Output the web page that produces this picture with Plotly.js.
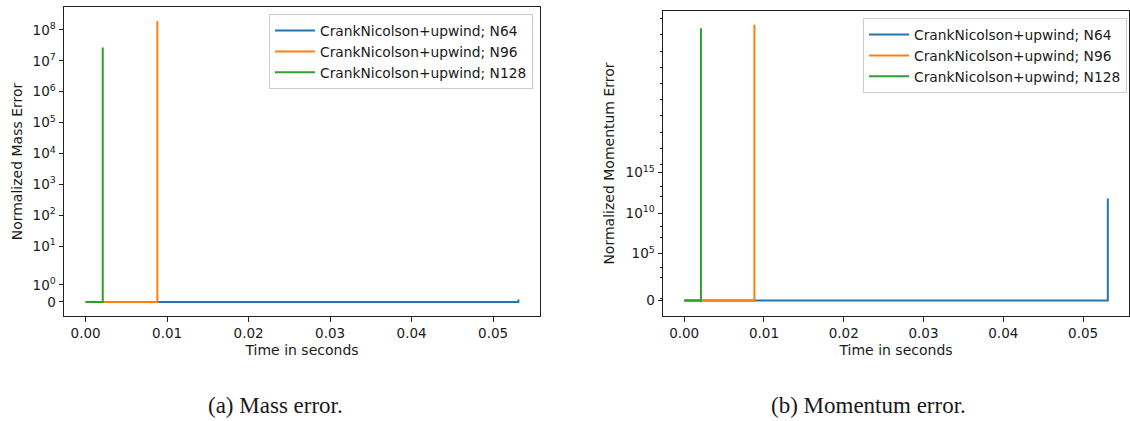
<!DOCTYPE html>
<html>
<head>
<meta charset="utf-8">
<script src="https://cdn.plot.ly/plotly-3.0.1.min.js"></script>
<style>
  html, body { margin: 0; padding: 0; background: #fff; }
  #chart { width: 1130px; height: 421px; }
</style>
</head>
<body>
<div id="chart"></div>
<script>
// ---------------- data ----------------
const seriesNames = ["CrankNicolson+upwind; N64", "CrankNicolson+upwind; N96", "CrankNicolson+upwind; N128"];
const seriesColors = ["#1f77b4", "#ff7f0e", "#2ca02c"];

const time_N64  = [0, 0.0531, 0.0531];
const mass_N64  = [0, 0, 0.15];
const momentum_N64 = [0, 0, 6e11];

const time_N96  = [0, 0.0088, 0.0088];
const mass_N96  = [0, 0, 1.94e8];
const momentum_N96 = [0, 0, 1.7e33];

const time_N128 = [0, 0.0021, 0.0021, 0.0021];
const mass_N128 = [0, 0, 0, 2.7e7];
const momentum_N128 = [0, 0, -0.35, 6.6e32];

const xTickVals = [0, 0.01, 0.02, 0.03, 0.04, 0.05];
const massTickVals = [0, 1, 10, 100, 1e3, 1e4, 1e5, 1e6, 1e7, 1e8];
const massTickText = ["0", "10<sup>0</sup>", "10<sup>1</sup>", "10<sup>2</sup>", "10<sup>3</sup>", "10<sup>4</sup>", "10<sup>5</sup>", "10<sup>6</sup>", "10<sup>7</sup>", "10<sup>8</sup>"];
const momTickVals = [0, 1e5, 1e10, 1e15];
const momTickText = ["0", "10<sup>5</sup>", "10<sup>10</sup>", "10<sup>15</sup>"];
const momMinorTickVals = [0.5, 1e2, 2e3, 1e7, 2e8, 1e12, 2e13, 1e16, 1e18, 1e20, 1e22, 1e24, 1e26, 1e28, 1e30, 1e32, 1e34];

// ---------------- symlog transform (matplotlib default: linthresh=2, linscale=1) ----------------
const LINTHRESH = 2, LINSCALE_ADJ = 1 / (1 - 1 / 10);
function symlog(v) {
  const a = Math.abs(v);
  const r = a <= LINTHRESH ? (a / LINTHRESH) * LINSCALE_ADJ : LINSCALE_ADJ + Math.log10(a / LINTHRESH);
  return v < 0 ? -r : r;
}
function padRange(vals, frac) {
  const lo = Math.min(...vals), hi = Math.max(...vals), d = (hi - lo) * frac;
  return [lo - d, hi + d];
}

const W = 1130, H = 421;
const FONT = "DejaVu Sans";
const TXT = "#1a1a1a";
const px = x => x / W, py = y => 1 - y / H;

const times = [time_N64, time_N96, time_N128];
const masses = [mass_N64, mass_N96, mass_N128];
const moms = [momentum_N64, momentum_N96, momentum_N128];

const traces = [];
for (let i = 0; i < 3; i++) {
  traces.push({
    x: times[i], y: masses[i].map(symlog), customdata: masses[i],
    type: "scatter", mode: "lines", name: seriesNames[i],
    line: { color: seriesColors[i], width: 2 },
    xaxis: "x", yaxis: "y", legend: "legend",
    hovertemplate: "%{x}, %{customdata}<extra></extra>"
  });
}
for (let i = 0; i < 3; i++) {
  traces.push({
    x: times[i], y: moms[i].map(symlog), customdata: moms[i],
    type: "scatter", mode: "lines", name: seriesNames[i],
    line: { color: seriesColors[i], width: 2 },
    xaxis: "x2", yaxis: "y2", legend: "legend2",
    hovertemplate: "%{x}, %{customdata}<extra></extra>"
  });
}

const allT = [].concat(...times);
const xr = padRange(allT, 0.05);
const y1r = padRange([].concat(...masses).map(symlog), 0.05);
const y2r = padRange([].concat(...moms).map(symlog), 0.05);

const axisCommon = {
  showgrid: false, zeroline: false, showline: true, mirror: true,
  linecolor: "#222", linewidth: 1, ticks: "outside", ticklen: 4.5, tickwidth: 1, tickcolor: "#222",
  tickfont: { family: FONT, size: 13.5, color: TXT }
};
const titleFont = { family: FONT, size: 14, color: TXT };

const legendCommon = {
  xanchor: "right", yanchor: "top",
  bgcolor: "rgba(255,255,255,0.8)", bordercolor: "#cccccc", borderwidth: 1,
  itemwidth: 40, tracegroupgap: 0,
  font: { family: FONT, size: 13.8, color: TXT }
};

const layout = {
  width: W, height: H,
  margin: { l: 0, r: 0, t: 0, b: 0 },
  paper_bgcolor: "#fff", plot_bgcolor: "#fff",
  font: { family: FONT, size: 14, color: TXT },
  showlegend: true,
  xaxis: Object.assign({}, axisCommon, {
    domain: [px(64), px(540)], range: xr, anchor: "y",
    tickmode: "array", tickvals: xTickVals, tickformat: ".2f",
    title: { text: "Time in seconds", font: titleFont, standoff: 5 }
  }),
  yaxis: Object.assign({}, axisCommon, {
    domain: [py(316), py(7)], range: y1r, anchor: "x",
    tickmode: "array", tickvals: massTickVals.map(symlog), ticktext: massTickText,
    title: { text: "Normalized Mass Error", font: titleFont, standoff: 6 }
  }),
  xaxis2: Object.assign({}, axisCommon, {
    domain: [px(663), px(1129)], range: xr, anchor: "y2",
    tickmode: "array", tickvals: xTickVals, tickformat: ".2f",
    title: { text: "Time in seconds", font: titleFont, standoff: 5 }
  }),
  yaxis2: Object.assign({}, axisCommon, {
    domain: [py(316), py(11)], range: y2r, anchor: "x2",
    tickmode: "array", tickvals: momTickVals.map(symlog), ticktext: momTickText,
    minor: { tickmode: "array", tickvals: momMinorTickVals.map(symlog), ticks: "outside", ticklen: 2.5, tickcolor: "#222", showgrid: false },
    title: { text: "Normalized Momentum Error", font: titleFont, standoff: 7 }
  }),
  legend: Object.assign({}, legendCommon, { x: px(533), y: py(14) }),
  legend2: Object.assign({}, legendCommon, { x: px(1127), y: py(18) }),
  annotations: [
    { text: "(a) Mass error.", xref: "paper", yref: "paper", x: px(275), y: py(405), xanchor: "center", yanchor: "middle",
      showarrow: false, font: { family: "Liberation Serif", size: 23, color: TXT } },
    { text: "(b) Momentum error.", xref: "paper", yref: "paper", x: px(868), y: py(405), xanchor: "center", yanchor: "middle",
      showarrow: false, font: { family: "Liberation Serif", size: 23, color: TXT } }
  ]
};

Plotly.newPlot("chart", traces, layout, { displayModeBar: false, responsive: false, staticPlot: true });
</script>
</body>
</html>
